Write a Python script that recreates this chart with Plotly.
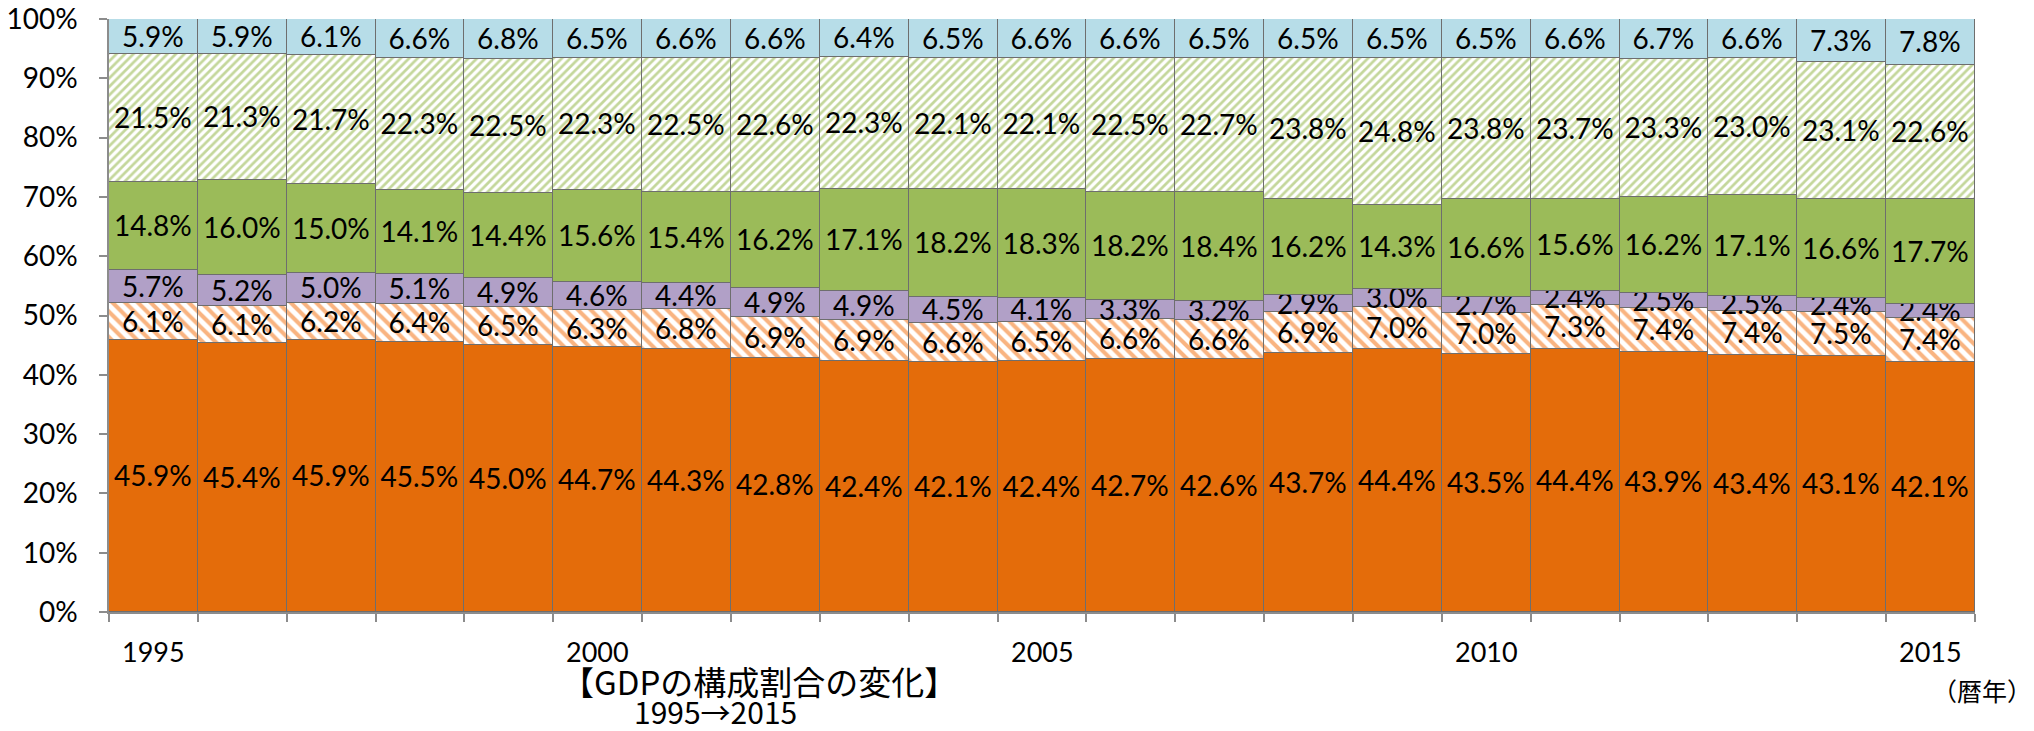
import plotly.graph_objects as go

years = list(range(1995, 2016))

# GDP composition shares (%), bottom to top of each stacked bar
seg_a = [45.9, 45.4, 45.9, 45.5, 45.0, 44.7, 44.3, 42.8, 42.4, 42.1, 42.4,
         42.7, 42.6, 43.7, 44.4, 43.5, 44.4, 43.9, 43.4, 43.1, 42.1]
seg_b = [6.1, 6.1, 6.2, 6.4, 6.5, 6.3, 6.8, 6.9, 6.9, 6.6, 6.5,
         6.6, 6.6, 6.9, 7.0, 7.0, 7.3, 7.4, 7.4, 7.5, 7.4]
seg_c = [5.7, 5.2, 5.0, 5.1, 4.9, 4.6, 4.4, 4.9, 4.9, 4.5, 4.1,
         3.3, 3.2, 2.9, 3.0, 2.7, 2.4, 2.5, 2.5, 2.4, 2.4]
seg_d = [14.8, 16.0, 15.0, 14.1, 14.4, 15.6, 15.4, 16.2, 17.1, 18.2, 18.3,
         18.2, 18.4, 16.2, 14.3, 16.6, 15.6, 16.2, 17.1, 16.6, 17.7]
seg_e = [21.5, 21.3, 21.7, 22.3, 22.5, 22.3, 22.5, 22.6, 22.3, 22.1, 22.1,
         22.5, 22.7, 23.8, 24.8, 23.8, 23.7, 23.3, 23.0, 23.1, 22.6]
seg_f = [5.9, 5.9, 6.1, 6.6, 6.8, 6.5, 6.6, 6.6, 6.4, 6.5, 6.6,
         6.6, 6.5, 6.5, 6.5, 6.5, 6.6, 6.7, 6.6, 7.3, 7.8]

year_labels = [1995, 2000, 2005, 2010, 2015]

LATIN = "Lato, 'Noto Sans', sans-serif"
CJK = "'Noto Sans CJK JP', 'Noto Sans', sans-serif"
EDGE = "#6e6e6e"
AXIS = "#8c8c8c"

styles = [
    (seg_a, dict(color="#E46C0A")),
    (seg_b, dict(color="white", pattern=dict(shape="\\", fgcolor="#F9B481", bgcolor="white",
                                             size=9, solidity=0.45, fillmode="replace"))),
    (seg_c, dict(color="#B1A0C7")),
    (seg_d, dict(color="#9BBB59")),
    (seg_e, dict(color="white", pattern=dict(shape="/", fgcolor="#C4D79B", bgcolor="white",
                                             size=6, solidity=0.45, fillmode="replace"))),
    (seg_f, dict(color="#B7DDE8")),
]

fig = go.Figure()
for vals, mk in styles:
    mk = dict(mk)
    mk["line"] = dict(color=EDGE, width=1.3)
    fig.add_trace(go.Bar(
        x=years, y=vals, marker=mk,
        text=[f"{v:.1f}%" for v in vals],
        textposition="inside", insidetextanchor="middle", textangle=0,
        textfont=dict(family=LATIN, size=28, color="black"),
        showlegend=False, hoverinfo="skip",
    ))

boundaries = [y - 0.5 for y in years] + [years[-1] + 0.5]

# plot area in pixels
L, R, T, B = 109, 59, 19, 119
W, H = 2034, 731
plot_w = W - L - R
plot_h = H - T - B


def px_to_paper(px, py):
    return (px - L) / plot_w, (H - B - py) / plot_h


fig.update_layout(
    width=W, height=H,
    margin=dict(l=L, r=R, t=T, b=B),
    barmode="stack", barnorm="percent", bargap=0,
    plot_bgcolor="white", paper_bgcolor="white",
    uniformtext=dict(minsize=28, mode="show"),
    font=dict(family=LATIN, color="black"),
    xaxis=dict(
        range=[years[0] - 0.5, years[-1] + 0.5],
        tickmode="array", tickvals=boundaries, ticktext=["" for _ in boundaries],
        ticks="outside", ticklen=8, tickwidth=1.5, tickcolor=AXIS,
        showline=True, linecolor=AXIS, linewidth=1.5,
        showgrid=False, zeroline=False, automargin=False,
    ),
    yaxis=dict(
        range=[0, 100], dtick=10, ticksuffix="%",
        ticks="outside", ticklen=8, tickwidth=1.5, tickcolor=AXIS,
        showline=True, linecolor=AXIS, linewidth=1.5,
        showgrid=False, zeroline=False, automargin=False,
        tickfont=dict(family=LATIN, size=28, color="black"),
        ticklabelstandoff=16,
    ),
)

# year labels under the axis
_, y_year = px_to_paper(0, 651)
for yr in year_labels:
    fig.add_annotation(x=yr, y=y_year, xref="x", yref="paper", text=str(yr),
                       showarrow=False, xanchor="center", yanchor="middle",
                       font=dict(family=LATIN, size=27, color="black"))

captions = [
    ("【GDPの構成割合の変化】", 759, 681, 33),
    ("1995→2015", 715, 711, 30),
    ("（暦年）", 1982, 690, 25),
]
for txt, cx, cy, size in captions:
    ax, ay = px_to_paper(cx, cy)
    fig.add_annotation(x=ax, y=ay, xref="paper", yref="paper", text=txt,
                       showarrow=False, xanchor="center", yanchor="middle",
                       font=dict(family=CJK, size=size, color="black"))

fig.write_html("out.html")
